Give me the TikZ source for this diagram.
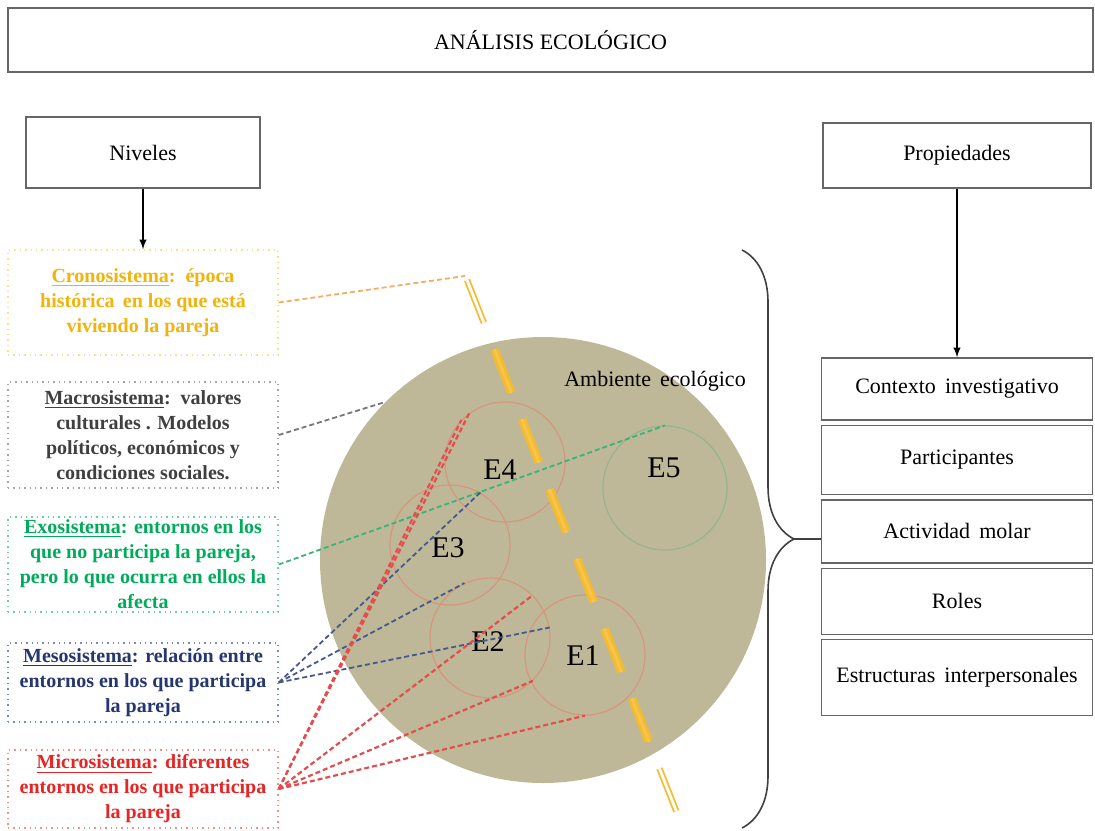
\documentclass[tikz,border=0pt]{standalone}
\usepackage{fontspec}
\setmainfont{Liberation Serif}
\usetikzlibrary{%
  arrows,%
  calc,%
  positioning,% wg. " of "
  decorations.pathreplacing% brace
}

\definecolor{fondo}{RGB}{190,184,152}
\definecolor{oro}{RGB}{246,188,45}
\definecolor{rosa}{RGB}{212,150,125}
\definecolor{verdoso}{RGB}{150,180,140}
\definecolor{cronotexto}{RGB}{242,180,10}
\definecolor{cronoborde}{RGB}{255,222,140}
\definecolor{macrotexto}{RGB}{64,64,64}
\definecolor{macroborde}{RGB}{165,165,165}
\definecolor{exotexto}{RGB}{0,172,92}
\definecolor{exoborde}{RGB}{105,210,165}
\definecolor{mesotexto}{RGB}{38,55,112}
\definecolor{mesoborde}{RGB}{120,138,190}
\definecolor{microtexto}{RGB}{232,36,36}
\definecolor{microborde}{RGB}{245,140,140}
\definecolor{naranja}{RGB}{245,172,100}
\definecolor{gris}{RGB}{118,118,118}
\definecolor{verde}{RGB}{55,180,120}
\definecolor{azul}{RGB}{70,88,140}
\definecolor{rojo}{RGB}{226,78,78}

\begin{document}
\begin{tikzpicture}[
    x=0.5pt,y=-0.5pt,
    >=latex,
    caja/.style={rectangle,draw=black!60,line width=0.7pt,fill=white,
        inner sep=0pt,align=center,font=\fontsize{11}{13}\selectfont},
    nivel/.style={rectangle,draw,dotted,line width=0.7pt,fill=white,
        minimum width=135pt,inner sep=0pt,align=center,
        font=\bfseries\fontsize{10}{12.5}\selectfont},
    entorno/.style={circle,draw=rosa,line width=0.6pt,minimum size=60pt,
        inner sep=0pt},
    etiqueta/.style={font=\fontsize{15}{17}\selectfont,inner sep=0pt},
    conexion/.style={dash pattern=on 2.5pt off 1.5pt,line width=0.9pt},
    eje/.style={draw=oro,line width=0.9pt,double=white,double distance=1.4pt,
        dash pattern=on 23pt off 14.5pt},
    node distance=2pt
  ]

    \useasboundingbox (0,0) rectangle (1095,830);

    \node (titulo) [caja,minimum width=542.5pt,minimum height=32pt]
        at (550.5,40) {ANÁLISIS ECOLÓGICO};
    \node (niveles) [caja,minimum width=117pt,minimum height=35.5pt]
        at (143,152.5) {Niveles};
    \node (propiedades) [caja,minimum width=134pt,minimum height=32.5pt]
        at (957,155.5) {Propiedades};

    \node (contexto) [caja,minimum width=135.5pt,minimum height=31pt]
        at (957,389) {Contexto\, investigativo};
    \node (participantes) [caja,minimum width=135.5pt,minimum height=34.5pt,
        below=of contexto] {Participantes};
    \node (actividad) [caja,minimum width=135.5pt,minimum height=31.5pt,
        below=of participantes] {Actividad\, molar};
    \node (roles) [caja,minimum width=135.5pt,minimum height=33pt,
        below=of actividad] {Roles};
    \node (estructuras) [caja,minimum width=135.5pt,minimum height=38pt,
        below=of roles] {Estructuras\, interpersonales};

    \node (crono) [nivel,draw=cronoborde,text=cronotexto,minimum height=52.5pt]
        at (143,302.5) {\underline{Cronosistema}:\, época\\histórica\, en los que está\\viviendo la pareja};
    \node (macro) [nivel,draw=macroborde,text=macrotexto,minimum height=53pt]
        at (143,435) {\underline{Macrosistema}:\, valores\\culturales . Modelos\\políticos, económicos y\\condiciones sociales.};
    \node (exo) [nivel,draw=exoborde,text=exotexto,minimum height=47.5pt]
        at (143,564.5) {\underline{Exosistema}: entornos en los\\que no participa la pareja,\\pero lo que ocurra en ellos la\\afecta};
    \node (meso) [nivel,draw=mesoborde,text=mesotexto,minimum height=39.5pt]
        at (143,682.5) {\underline{Mesosistema}: relación entre\\entornos en los que participa\\la pareja};
    \node (micro) [nivel,draw=microborde,text=microtexto,minimum height=39pt]
        at (143,789) {\underline{Microsistema}: diferentes\\entornos en los que participa\\la pareja};

    \draw[->,line width=0.7pt] (niveles) -- (crono);
    \draw[->,line width=0.7pt] (propiedades) -- (contexto);

    \node (amb) [circle,fill=fondo,minimum size=223pt,inner sep=0pt] at (543,560) {};

    \node (e1) [entorno] at (585,655) {};
    \node (e2) [entorno] at (490,638) {};
    \node (e3) [entorno] at (450,545) {};
    \node (e4) [entorno] at (505,462) {};
    \node (e5) [entorno,draw=verdoso,minimum size=62pt] at (665,488) {};

    \coordinate (ya) at (467,280);
    \coordinate (yb) at (677,813);
    \draw[eje] (ya) -- (yb);
    \begin{scope}
        \clip (amb.center) circle[radius=223];
        \draw[draw=oro,line width=4.4pt,opacity=0.85,
            dash pattern=on 23pt off 14.5pt] (ya) -- (yb);
    \end{scope}

    \node (te1) [etiqueta] at (583,656) {E1};
    \node (te2) [etiqueta] at (488,642) {E2};
    \node (te3) [etiqueta] at (448,548) {E3};
    \node (te4) [etiqueta] at (500,470) {E4};
    \node (te5) [etiqueta] at (664,468) {E5};
    \node (ambiente) [font=\fontsize{11}{13}\selectfont] at (655,381) {Ambiente\, ecológico};

    \coordinate (llavearriba) at (742,250);
    \coordinate (llaveabajo) at (742,828);
    \coordinate (punta) at (794,539);
    \draw[decorate,decoration={brace,amplitude=26pt},line width=0.8pt,black!75]
        (llavearriba) -- (llaveabajo);
    \draw[line width=0.8pt,black!75] (punta) -- (punta -| actividad.west);

    \begin{scope}[conexion]
     \coordinate (fincrono) at (465,276);
     \draw[naranja] (crono.east) -- (fincrono);
     \draw[gris] (macro.east) -- (amb.135);
     \draw[verde] (exo.east) -- (e5.north);
     \draw[azul] (meso.east) -- (e3.60);
     \draw[azul] (meso.east) -- (e2.115);
     \draw[azul] (meso.east) -- (e2.10);
     \draw[rojo,line width=1.1pt] (micro.east) -- (e4.136);
     \draw[rojo,line width=1.1pt] (micro.east) -- (e4.126);
     \draw[rojo,line width=1.1pt] (micro.east) -- (e2.45);
     \draw[rojo,line width=1.1pt] (micro.east) -- (e2.-45);
     \draw[rojo,line width=1.1pt] (micro.east) -- (e1.south);
    \end{scope}
\end{tikzpicture}
\end{document}
